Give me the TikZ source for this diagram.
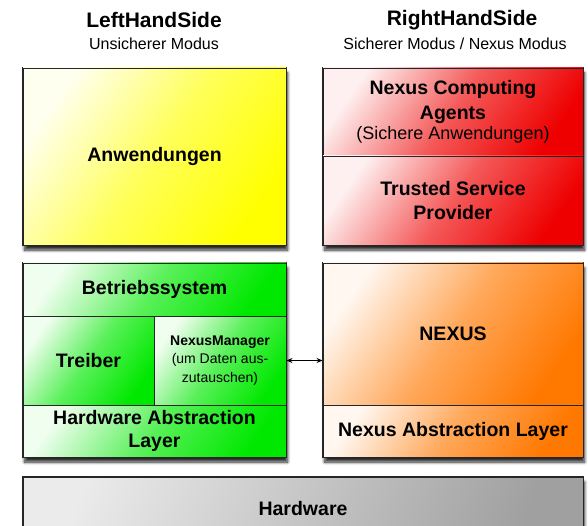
\documentclass[tikz,border=0pt]{standalone}
\usepackage{fontspec}
\setmainfont{Liberation Sans}
\usetikzlibrary{shadows.blur,arrows.meta}
\definecolor{appyellow}{RGB}{255,255,0}
\definecolor{secred}{RGB}{238,0,0}
\definecolor{osgreen}{RGB}{0,232,0}
\definecolor{nexorange}{RGB}{255,120,0}
\definecolor{hwgray}{RGB}{160,160,160}
\tikzset{
  cell/.style={draw=black!85, line width=0.9pt, inner sep=1pt, align=center,
    font=\bfseries\fontsize{19.5}{24}\selectfont},
  fade/.style={top color=#1!6!white, bottom color=#1, middle color=#1!65!white, shading angle=55},
  frame/.style={draw=black!85, line width=1.2pt, fill=white,
    blur shadow={shadow xshift=1.5pt, shadow yshift=-5pt, shadow opacity=85,
      shadow blur radius=3pt, shadow blur steps=8}},
  head/.style={font=\bfseries\fontsize{21}{24}\selectfont},
  subhead/.style={font=\fontsize{16}{18}\selectfont}
}
\begin{document}
\begin{tikzpicture}[>={Stealth[length=6pt,width=5pt]}, x=1pt, y=-1pt]
\useasboundingbox (0,0) rectangle (588,526);
% column titles
\node[head] (lhs) at (154,20) {LeftHandSide};
\node[subhead] (lhssub) at (154,44) {Unsicherer Modus};
\node[head] (rhs) at (462,20) {RightHandSide};
\node[subhead] (rhssub) at (455,44) {Sicherer Modus / Nexus Modus};
% frames
\node[frame, minimum width=263pt, minimum height=177pt] (appbox) at (154.5,156.5) {};
\node[frame, minimum width=260pt, minimum height=177pt] (secbox) at (453,156.5) {};
\node[frame, minimum width=263pt, minimum height=194pt] (osbox) at (154.5,360) {};
\node[frame, minimum width=260pt, minimum height=194pt] (nexbox) at (453,360) {};
\node[frame, minimum width=560pt, minimum height=64pt] (hwbox) at (303,509) {};
% upper row
\node[cell, fade=appyellow, minimum width=263pt, minimum height=177pt] (apps) at (154.5,156.5) {Anwendungen};
\node[cell, fade=secred, minimum width=260pt, minimum height=88pt] (nca) at (453,112)
  {Nexus Computing\\[1pt] Agents\\[-4pt] {\normalfont\fontsize{18}{21}\selectfont (Sichere Anwendungen)}};
\node[cell, fade=secred, minimum width=260pt, minimum height=89pt] (tsp) at (453,200.5) {Trusted Service\\ Provider};
% middle row
\node[cell, fade=osgreen, minimum width=263pt, minimum height=53pt] (bs) at (154.5,289.5) {Betriebssystem};
\node[cell, fade=osgreen, minimum width=131pt, minimum height=89pt] (treiber) at (88.5,360.5) {Treiber};
\node[cell, fade=osgreen, minimum width=132pt, minimum height=89pt, font=\fontsize{14}{18.5}\selectfont] (nexmgr) at (220,360.5)
  {\textbf{NexusManager}\\ (um Daten aus-\\ zutauschen)};
\node[cell, fade=osgreen, minimum width=263pt, minimum height=52pt, font=\bfseries\fontsize{19.5}{23}\selectfont] (hal) at (154.5,431) {Hardware Abstraction\\ Layer};
\node[cell, fade=nexorange, minimum width=260pt, minimum height=142pt] (nexus) at (453,334) {NEXUS};
\node[cell, fade=nexorange, minimum width=260pt, minimum height=52pt] (nal) at (453,431) {Nexus Abstraction Layer};
% bottom row
\node[cell, top color=white!92!black, bottom color=hwgray, shading angle=70, minimum width=560pt, minimum height=64pt] (hw) at (303,509) {Hardware};
% exchange
\draw[<->, line width=1.1pt] (nexmgr.east) -- (nexmgr.east -| nexus.west);
\end{tikzpicture}
\end{document}
